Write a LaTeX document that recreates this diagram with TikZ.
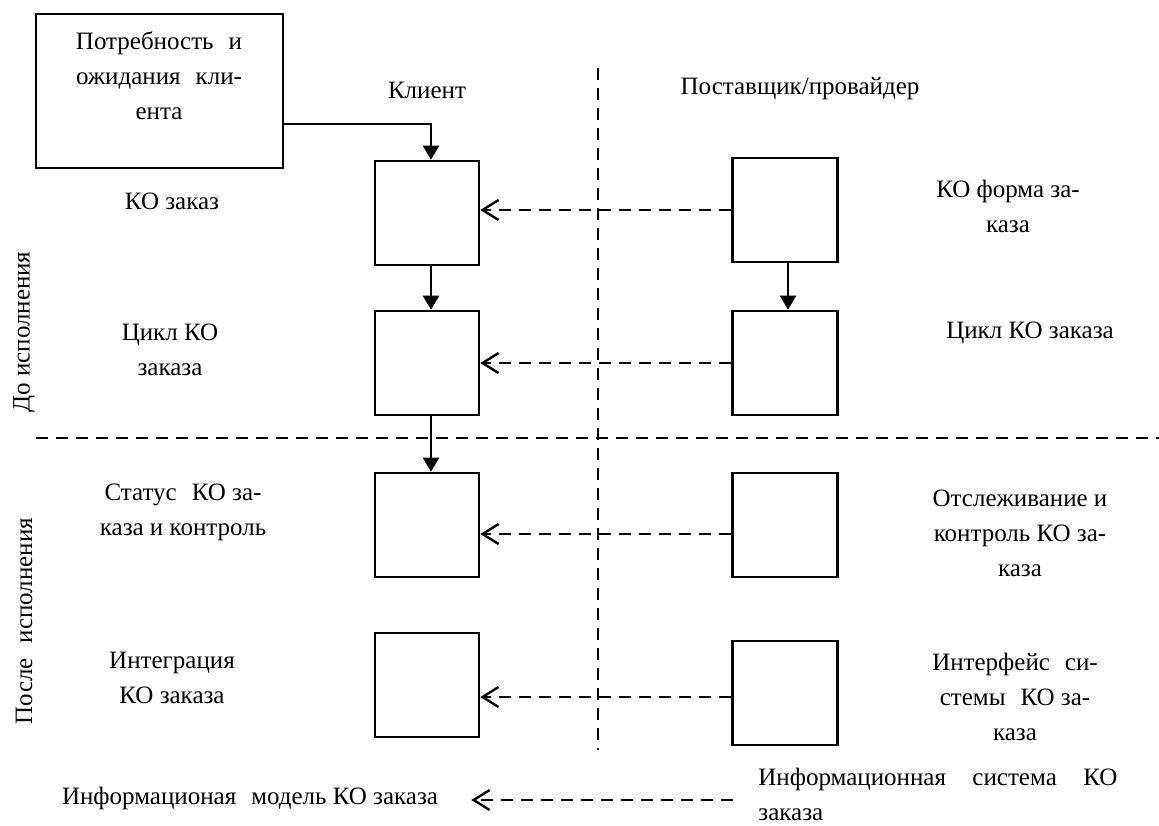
\documentclass[tikz,border=0pt]{standalone}
\usepackage{fontspec}
\setmainfont{Liberation Serif}
\usetikzlibrary{arrows.meta,calc}
\newcommand\widegap{\hspace{0.6em}}
\begin{document}
\begin{tikzpicture}[x=0.5pt,y=-0.5pt,
  font=\fontsize{12.5}{17.5}\selectfont,
  box/.style={draw, line width=1.3pt, minimum width=52pt, minimum height=52pt, inner sep=0pt},
  txt/.style={inner sep=0pt, align=center},
  flow/.style={line width=1.2pt, -{Triangle[length=7pt,width=8pt]}},
  link/.style={line width=1.2pt, dash pattern=on 6pt off 4pt, -{Straight Barb[length=8pt,width=10pt]}},
  divider/.style={line width=1.1pt, dash pattern=on 6pt off 4pt}]
\useasboundingbox (0,0) rectangle (1159,825);

% column and phase dividers
\draw[divider] (598,68) -- (598,750);
\draw[divider] (36,438) -- (1159,438);

% customer needs
\node[box, minimum width=123.5pt, minimum height=77pt] (needs) at (159.5,91) {};
\node[txt] (needstxt) at (159,76) {Потребность\widegap и\\ожидания\widegap кли-\\ента};

% column titles
\node[txt] (client) at (427,90) {Клиент};
\node[txt] (provider) at (800,89) {Поставщик/провайдер};

% client column
\node[box] (c1) at (427,213) {};
\node[box] (c2) at (427,363) {};
\node[box] (c3) at (427,525) {};
\node[box] (c4) at (427,685) {};

% provider column
\node[box, minimum width=52.5pt] (p1) at (785,210) {};
\node[box, minimum width=52.5pt] (p2) at (785,363) {};
\node[box, minimum width=52.5pt] (p3) at (785,525) {};
\node[box, minimum width=52.5pt] (p4) at (785,693) {};

% phase labels
\node[txt, rotate=90] (before) at (24,332) {До исполнения};
\node[txt, rotate=90] (after) at (24,621) {После\widegap исполнения};

% client side captions
\node[txt] (lbl1) at (172,201) {КО заказ};
\node[txt] (lbl2) at (170,350) {Цикл КО\\заказа};
\node[txt] (lbl3) at (183,512) {Статус\widegap КО за-\\каза и контроль};
\node[txt] (lbl4) at (172,678) {Интеграция\\КО заказа};

% provider side captions
\node[txt] (rbl1) at (1008,206) {КО форма за-\\каза};
\node[txt] (rbl2) at (1030,333) {Цикл КО заказа};
\node[txt] (rbl3) at (1020,533) {Отслеживание и\\контроль КО за-\\каза};
\node[txt] (rbl4) at (1015,697) {Интерфейс\widegap си-\\стемы\widegap КО за-\\каза};

% information level
\node[txt] (infomodel) at (250,798) {Информационая\widegap модель КО заказа};
\node[inner sep=0pt, align=left, anchor=west] (infosys) at (758,794)
  {\makebox[179.5pt][s]{Информационная\hfill система\hfill КО}\\заказа};

% solid flow
\draw[flow] ($(needs.east)+(0,33)$) -| ($(c1.north)+(4,0)$);
\draw[flow] ($(c1.south)+(4,0)$) -- ($(c2.north)+(4,0)$);
\draw[flow] ($(c2.south)+(4,0)$) -- ($(c3.north)+(4,0)$);
\draw[flow] ($(p1.south)+(3,0)$) -- ($(p2.north)+(3,0)$);

% information links from provider to client
\draw[link] (p1.west) -- (p1.west -| c1.east);
\draw[link] (p2.west) -- (p2.west -| c2.east);
\coordinate (d3) at ($(p3.west)+(0,9)$);
\draw[link] (d3) -- (d3 -| c3.east);
\coordinate (d4) at ($(p4.west)+(0,4)$);
\draw[link] (d4) -- (d4 -| c4.east);
\coordinate (is0) at ($(infosys.west)+(-25,6)$);
\coordinate (im0) at ($(infomodel.east)+(33,2)$);
\draw[link] (is0) -- (im0);
\end{tikzpicture}
\end{document}
